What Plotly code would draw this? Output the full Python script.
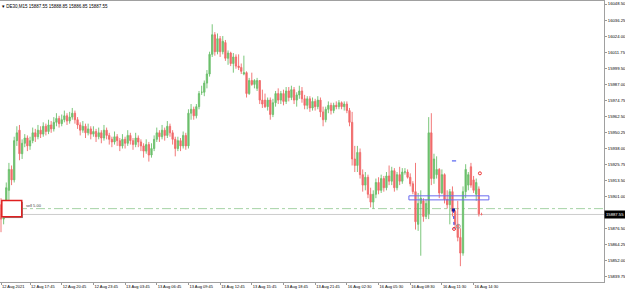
import plotly.graph_objects as go

# ---------------- data ----------------
symbol_header = "DE30,M15 15887.55 15888.85 15886.85 15887.55"

open_ = [
    15895, 15884, 15893, 15906, 15922, 15914, 15944, 15952, 15934, 15942,
    15946, 15940, 15944, 15950, 15947, 15952, 15949, 15955, 15951, 15956,
    15953, 15958, 15961, 15957, 15960, 15963, 15959, 15962, 15965, 15960,
    15956, 15952, 15955, 15950, 15953, 15949, 15951, 15947, 15950, 15946,
    15952, 15948, 15945, 15943, 15947, 15944, 15940, 15945, 15942, 15948,
    15944, 15941, 15946, 15943, 15940, 15936, 15941, 15933, 15938, 15945,
    15950, 15947, 15952, 15948, 15955, 15950, 15945, 15938, 15944, 15940,
    15948, 15940, 15965, 15968, 15963, 15970, 15981, 15981, 15988, 15995,
    16010, 16025, 16012, 16022, 16012, 16019, 16007, 16011, 16003, 16008,
    16001, 16000, 15995, 15996, 15980, 15990, 15987, 15984, 15990, 15975,
    15975, 15970, 15975, 15964, 15973, 15980, 15975, 15980, 15974, 15982,
    15977, 15983, 15975, 15979, 15982, 15976, 15971, 15976, 15969, 15974,
    15970, 15975, 15966, 15960, 15968, 15971, 15967, 15971, 15970, 15973,
    15970, 15972, 15967, 15958, 15930, 15925, 15935, 15918, 15910, 15916,
    15903, 15897, 15903, 15912, 15906, 15915, 15908, 15917, 15913, 15921,
    15908, 15918, 15913, 15920, 15920, 15916, 15911, 15905, 15880, 15896,
    15898, 15886, 15888, 15950, 15915, 15918, 15922, 15904, 15918, 15899,
    15895, 15905, 15890, 15880, 15870, 15858, 15905, 15910, 15924, 15914,
    15903, 15907, 15887.55,
]
high = [
    15900, 15898, 15912, 15927, 15925, 15947, 15955, 15956, 15945, 15949,
    15948, 15947, 15954, 15953, 15956, 15955, 15958, 15957, 15960, 15959,
    15962, 15965, 15963, 15964, 15967, 15965, 15966, 15969, 15967, 15962,
    15958, 15959, 15957, 15957, 15955, 15955, 15953, 15954, 15952, 15956,
    15954, 15950, 15947, 15951, 15949, 15946, 15949, 15947, 15952, 15950,
    15946, 15950, 15948, 15945, 15942, 15945, 15943, 15942, 15948, 15954,
    15952, 15956, 15954, 15959, 15957, 15952, 15947, 15947, 15946, 15951,
    15950, 15968, 15972, 15970, 15972, 15982, 15986, 15990, 15998, 16012,
    16033, 16027, 16026, 16024, 16024, 16021, 16013, 16012, 16011, 16010,
    16010, 16003, 16009, 15997, 15992, 15996, 15991, 15992, 15990, 15983,
    15980, 15977, 15977, 15976, 15982, 15984, 15982, 15983, 15985, 15985,
    15986, 15985, 15981, 15986, 15985, 15979, 15978, 15978, 15977, 15976,
    15978, 15977, 15970, 15970, 15974, 15973, 15973, 15974, 15975, 15974,
    15974, 15974, 15969, 15966, 15940, 15940, 15938, 15922, 15920, 15918,
    15908, 15906, 15915, 15916, 15918, 15917, 15920, 15925, 15924, 15923,
    15920, 15924, 15923, 15923, 15922, 15919, 15913, 15927, 15904, 15906,
    15900, 15899, 15962, 15965, 15934, 15932, 15923, 15922, 15919, 15906,
    15907, 15909, 15891, 15898, 15877, 15909, 15926, 15920, 15927, 15917,
    15915, 15909, 15888.85,
]
low = [
    15874, 15880, 15889, 15895, 15910, 15912, 15940, 15929, 15930, 15939,
    15936, 15937, 15942, 15943, 15945, 15946, 15947, 15948, 15949, 15950,
    15951, 15955, 15954, 15955, 15958, 15956, 15957, 15960, 15957, 15953,
    15948, 15950, 15946, 15948, 15945, 15947, 15943, 15945, 15942, 15944,
    15945, 15941, 15939, 15941, 15940, 15936, 15938, 15938, 15940, 15941,
    15937, 15939, 15939, 15936, 15931, 15934, 15928, 15931, 15936, 15943,
    15943, 15945, 15944, 15946, 15947, 15941, 15932, 15936, 15936, 15938,
    15937, 15938, 15960, 15960, 15961, 15968, 15979, 15978, 15984, 15993,
    16008, 16009, 16010, 16008, 16010, 16005, 16002, 16001, 15996, 15999,
    15998, 15995, 15994, 15977, 15979, 15986, 15984, 15982, 15972, 15969,
    15969, 15967, 15960, 15962, 15970, 15972, 15972, 15971, 15972, 15974,
    15975, 15972, 15970, 15976, 15973, 15968, 15968, 15966, 15967, 15967,
    15968, 15962, 15955, 15958, 15965, 15964, 15965, 15968, 15968, 15968,
    15967, 15965, 15955, 15925, 15920, 15920, 15915, 15905, 15906, 15900,
    15893, 15892, 15900, 15903, 15904, 15905, 15906, 15910, 15910, 15905,
    15906, 15910, 15911, 15918, 15915, 15909, 15903, 15876, 15875, 15856,
    15882, 15884, 15884, 15910, 15911, 15915, 15900, 15903, 15896, 15892,
    15880, 15886, 15877, 15867, 15848, 15856, 15900, 15906, 15908, 15904,
    15898, 15886, 15886.85,
]
close = [
    15884, 15893, 15908, 15922, 15914, 15944, 15950, 15934, 15942, 15946,
    15940, 15944, 15950, 15947, 15952, 15949, 15955, 15951, 15956, 15953,
    15958, 15961, 15957, 15960, 15963, 15959, 15962, 15965, 15960, 15956,
    15952, 15955, 15950, 15953, 15949, 15951, 15947, 15950, 15946, 15952,
    15948, 15945, 15943, 15947, 15944, 15940, 15945, 15942, 15948, 15944,
    15941, 15946, 15943, 15940, 15936, 15941, 15933, 15938, 15945, 15950,
    15947, 15952, 15948, 15955, 15950, 15945, 15938, 15944, 15940, 15948,
    15940, 15965, 15968, 15963, 15970, 15980, 15981, 15988, 15995, 16010,
    16025, 16012, 16022, 16012, 16020, 16007, 16011, 16003, 16008, 16001,
    16000, 15997, 15996, 15980, 15990, 15987, 15990, 15990, 15975, 15972,
    15970, 15975, 15964, 15973, 15980, 15975, 15980, 15974, 15982, 15977,
    15983, 15975, 15979, 15982, 15976, 15971, 15976, 15969, 15974, 15970,
    15975, 15966, 15960, 15968, 15971, 15967, 15971, 15970, 15973, 15970,
    15972, 15967, 15958, 15930, 15925, 15935, 15918, 15910, 15916, 15903,
    15897, 15903, 15912, 15906, 15915, 15908, 15917, 15913, 15921, 15908,
    15918, 15913, 15920, 15920, 15916, 15911, 15905, 15882, 15896, 15900,
    15886, 15896, 15950, 15915, 15930, 15922, 15904, 15918, 15899, 15895,
    15905, 15890, 15880, 15870, 15858, 15905, 15922, 15918, 15910, 15906,
    15912, 15888, 15887.55,
]
bar_index = list(range(len(close)))

# time axis labels (bar index where each label sits)
time_tick_bars = [0, 11, 23, 35, 47, 59, 71, 83, 95, 107, 119, 131, 143, 155, 167, 179]
time_tick_labels = [
    "12 Aug 2021", "12 Aug 17:45", "12 Aug 20:45", "12 Aug 23:45",
    "13 Aug 03:45", "13 Aug 06:45", "13 Aug 09:45", "13 Aug 12:45",
    "13 Aug 15:45", "13 Aug 18:45", "13 Aug 21:45", "16 Aug 02:30",
    "16 Aug 05:30", "16 Aug 08:30", "16 Aug 11:30", "16 Aug 14:30",
]

# price axis labels
price_ticks = [16048.50, 16036.25, 16024.00, 16011.75, 15999.50, 15987.00,
               15974.75, 15962.50, 15950.25, 15938.00, 15925.75, 15913.50,
               15901.00, 15876.50, 15864.25, 15852.00, 15839.75]
price_tick_labels = ["16048.50", "16036.25", "16024.00", "16011.75", "15999.50",
                     "15987.00", "15974.75", "15962.50", "15950.25", "15938.00",
                     "15925.75", "15913.50", "15901.00", "15876.50", "15864.25",
                     "15852.00", "15839.75"]

current_price = 15887.55
order_price = 15892.0
order_label = "sell 5.00"
zone_low, zone_high = 15898.7, 15901.8
zone_start_bar, zone_end_bar = 154.5, 184.8

# trade markers
entry_bar, entry_price = 171.4, 15891.0
exit_bar, exit_price = 171.6, 15876.5
pending_bar, pending_price = 171.6, 15928.5
circle_bar, circle_price = 173.2, 15878.5
alert_bar, alert_price = 181.4, 15919.0

# ---------------- figure ----------------
UP = "#6cbf6c"
DOWN = "#f06a6a"
FONT = "Liberation Sans"

fig = go.Figure()
fig.add_trace(go.Candlestick(
    x=bar_index, open=open_, high=high, low=low, close=close,
    increasing=dict(line=dict(color=UP, width=0.9), fillcolor=UP),
    decreasing=dict(line=dict(color=DOWN, width=0.9), fillcolor=DOWN),
    whiskerwidth=0, hoverinfo="skip", showlegend=False,
))

# trade markers
fig.add_trace(go.Scatter(x=[pending_bar], y=[pending_price], mode="markers",
                         marker=dict(symbol="line-ew", size=3, color="#3344ee",
                                     line=dict(color="#3344ee", width=1)),
                         showlegend=False, hoverinfo="skip"))
fig.add_trace(go.Scatter(x=[entry_bar, exit_bar], y=[entry_price, exit_price], mode="lines",
                         line=dict(color="#3344ee", width=1, dash="dot"),
                         showlegend=False, hoverinfo="skip"))
fig.add_trace(go.Scatter(x=[entry_bar], y=[entry_price], mode="markers",
                         marker=dict(symbol="square", size=3, color="#1a1aa0"),
                         showlegend=False, hoverinfo="skip"))
fig.add_trace(go.Scatter(x=[circle_bar], y=[circle_price], mode="markers",
                         marker=dict(symbol="circle-open", size=4, color="#999999",
                                     line=dict(color="#999999", width=1)),
                         showlegend=False, hoverinfo="skip"))
fig.add_trace(go.Scatter(x=[exit_bar, alert_bar], y=[exit_price, alert_price], mode="markers",
                         marker=dict(symbol="circle-open", size=3, color="#ee3333",
                                     line=dict(color="#ee3333", width=1)),
                         showlegend=False, hoverinfo="skip"))

shapes = [
    # current bid line
    dict(type="line", xref="paper", x0=0, x1=1, yref="y", y0=current_price, y1=current_price,
         line=dict(color="#cccccc", width=1), layer="below"),
    # order line
    dict(type="line", xref="paper", x0=0, x1=1, yref="y", y0=order_price, y1=order_price,
         line=dict(color="#a5d3a5", width=1, dash="dashdot"), layer="below"),
    # zone rectangle
    dict(type="rect", xref="x", x0=zone_start_bar, x1=zone_end_bar, yref="y", y0=zone_low, y1=zone_high,
         line=dict(color="#6a6af0", width=1), fillcolor="rgba(0,0,0,0)"),
    # order box shadow + box
    dict(type="rect", xref="paper", x0=0.005, x1=0.038, yref="y", y0=order_price - 7.2, y1=order_price + 5.2,
         line=dict(width=0), fillcolor="#888888"),
    dict(type="rect", xref="paper", x0=0.003, x1=0.036, yref="y", y0=order_price - 6.2, y1=order_price + 6.2,
         line=dict(color="#e02020", width=1.5), fillcolor="white"),
]

annotations = [
    dict(xref="paper", yref="paper", x=0.0, y=1.0, xanchor="left", yanchor="top",
         text="▾ " + symbol_header, showarrow=False, yshift=-1,
         font=dict(family=FONT, size=4.5, color="#000000")),
    dict(xref="paper", yref="y", x=0.04, y=order_price, xanchor="left", yanchor="bottom",
         text=order_label, showarrow=False, yshift=-1,
         font=dict(family=FONT, size=4, color="#444444")),
    dict(xref="paper", yref="y", x=1.0, y=current_price, xanchor="left", yanchor="middle",
         text=f"{current_price:.2f}", showarrow=False, bgcolor="#000000", borderpad=1,
         font=dict(family=FONT, size=4.2, color="#ffffff")),
]

fig.update_layout(
    width=625, height=290,
    margin=dict(l=0, r=21, t=1, b=8, autoexpand=False),
    paper_bgcolor="white", plot_bgcolor="white",
    shapes=shapes, annotations=annotations,
    showlegend=False,
    xaxis=dict(
        range=[-0.38, 228.4], rangeslider=dict(visible=False),
        tickmode="array", tickvals=time_tick_bars, ticktext=time_tick_labels,
        ticklabelposition="outside right", tickangle=0, ticklabelstandoff=0,
        ticks="outside", ticklen=2, tickcolor="#999999",
        tickfont=dict(family=FONT, size=4, color="#000000"),
        showgrid=False, zeroline=False,
        showline=True, linecolor="#a0a0a0", linewidth=1, mirror=True,
    ),
    yaxis=dict(
        side="right", range=[15835.9, 16050.8],
        tickmode="array", tickvals=price_ticks, ticktext=price_tick_labels,
        ticks="outside", ticklen=2, tickcolor="#999999", ticklabelstandoff=0,
        tickfont=dict(family=FONT, size=4.2, color="#000000"),
        showgrid=False, zeroline=False,
        showline=True, linecolor="#a0a0a0", linewidth=1,
    ),
)

fig.write_html("out.html")
